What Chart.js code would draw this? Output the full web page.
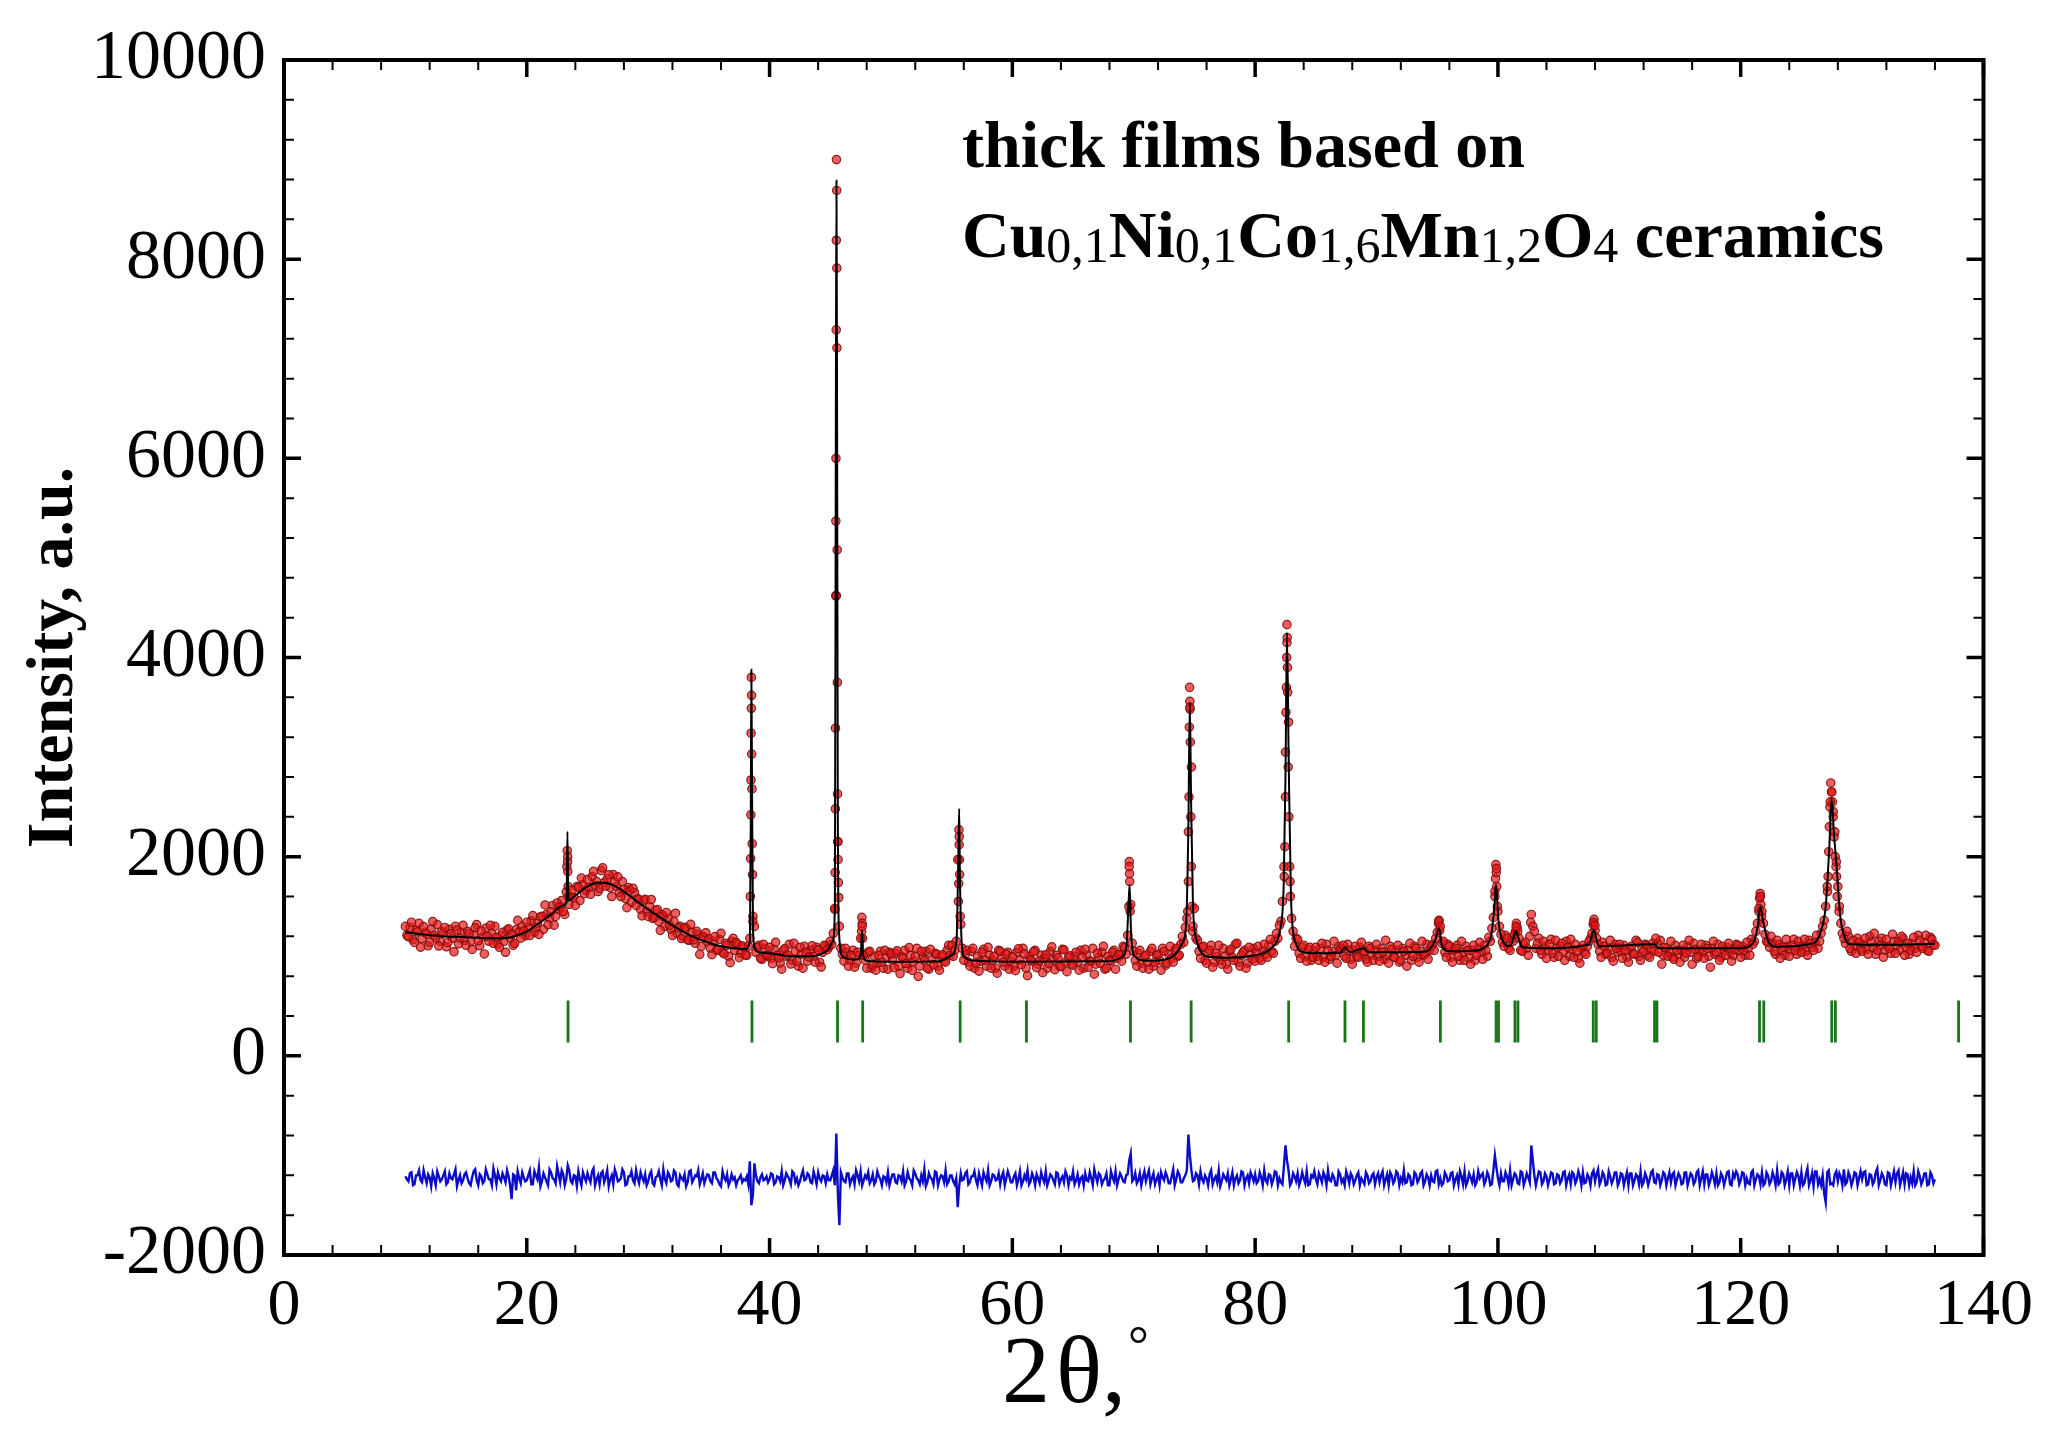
<!DOCTYPE html>
<html>
<head>
<meta charset="utf-8">
<script src="https://cdn.jsdelivr.net/npm/chart.js@4.4.1/dist/chart.umd.min.js"></script>
<style>
  html, body { margin: 0; padding: 0; background: #ffffff; }
  #wrap { width: 2045px; height: 1445px; }
</style>
</head>
<body>
<div id="wrap"><canvas id="c" width="2045" height="1445"></canvas></div>
<script>
// ---------------- DATA ----------------
// observed intensities on a regular 2θ grid (start 10°, step 0.25°)
const obsStart = 10;
const obsStep = 0.25;
const obsCounts = [
  1300,1196,1342,1139,1245,1091,1298,1224,1140,1348,1185,1103,1250,1289,1138,1226,1045,1264,1183,1311,
  1110,1229,1068,1286,1155,1254,1023,1202,1310,1130,1190,1090,1240,1040,1275,1220,1130,1360,1182,1255,
  1340,1208,1408,1288,1220,1402,1515,1318,1450,1312,1535,1498,1450,1645,1520,1665,1510,1692,1785,1628,
  1770,1622,1852,1752,1680,1888,1705,1818,1600,1745,1798,1600,1670,1488,1665,1682,1510,1568,1405,1572,
  1400,1570,1390,1470,1260,1400,1440,1310,1210,1432,1285,1178,1290,1165,1320,1165,1250,1018,1197,1236,
  1175,1016,1197,1068,1230,1025,1110,935,1180,1138,986,1104,1012,1100,3490,1300,1090,980,1120,1010,
  1090,925,1140,985,870,1077,1014,922,1130,950,1090,880,1040,992,1105,940,1065,892,1110,1065,
  1150,1230,4620,1300,1020,1080,900,1010,890,1040,1180,1010,880,1050,910,860,1010,940,1060,870,
  1025,885,1055,826,976,927,1087,858,998,798,1049,959,880,1070,915,1020,860,1015,940,1110,
  1110,1060,1970,1320,960,1060,900,1080,930,850,1040,960,1090,880,1000,830,1050,940,1020,870,
  995,855,1075,915,1025,805,965,1045,885,955,835,1015,925,1095,865,985,895,1065,845,1005,
  910,1040,860,990,1070,890,950,820,1030,930,1100,880,960,1040,870,1020,950,1090,1210,1520,
  1050,900,1060,880,1010,870,1080,940,1020,860,1050,930,1100,940,1080,1010,1200,1290,2250,2900,
  1480,1160,980,1100,930,1060,890,1030,1110,920,1000,870,1070,960,1130,900,1040,880,1090,970,
  950,1100,960,1120,990,1170,1030,1230,1310,1550,3050,3350,1380,1100,1170,980,1110,950,1090,990,
  1090,960,1130,940,1060,1000,1150,930,1070,1110,980,1060,920,1100,990,1140,1050,940,1080,960,
  1120,950,1040,1160,930,1070,990,1110,960,1050,900,1130,1000,1080,940,1150,1020,970,1100,1060,
  1240,1300,1150,990,1100,940,1080,1000,1150,960,1060,920,1110,1010,1140,970,1060,1190,1280,1600,
  1450,1220,1100,1180,1060,1150,1300,1180,1050,1140,1010,1420,1250,1130,1060,1150,980,1120,1030,1160,
  1000,1130,960,1090,1170,990,1050,930,1110,1020,1150,1230,1310,1120,990,1100,1030,1160,950,1080,
  1120,980,1060,940,1100,1020,1140,960,1050,1110,990,1130,1180,1040,920,1090,1000,1150,970,1060,
  940,1110,1030,1160,920,1070,1000,1120,980,1080,890,1150,1040,960,1100,1010,1130,950,1070,1110,
  990,1060,1140,1010,1120,1250,1480,1450,1220,1140,1200,1050,1160,980,1090,1170,1000,1110,1060,1150,
  1040,1170,1010,1130,1060,1210,1150,1300,1500,2050,2650,2250,1700,1330,1180,1250,1080,1160,1030,1140,
  1050,1180,1020,1140,1230,1060,1110,990,1170,1080,1220,1030,1150,1200,1010,1130,1060,1190,1040,1160,
  1080,1210,1050,1170,1110
];

// observed intensities at the intermediate grid points (start 10.125°, step 0.25°)
const obsStartB = 10.125;
const obsCountsB = [
  1210,1290,1165,1262,1330,1178,1240,1105,1275,1210,1318,1150,1232,1095,1270,1180,1302,1125,1240,1160,
  1250,1150,1220,1318,1105,1195,1282,1150,1228,1300,1120,1205,1150,1262,1185,1110,1268,1245,1300,1205,
  1290,1355,1240,1330,1395,1270,1420,1380,1510,1400,1470,1560,1420,2000,1600,1590,1700,1560,1720,1660,
  1690,1800,1710,1650,1860,1740,1780,1690,1820,1700,1640,1750,1580,1690,1540,1640,1580,1470,1560,1450,
  1500,1380,1460,1350,1420,1300,1380,1270,1350,1230,1300,1200,1280,1160,1240,1130,1220,1100,1190,1150,
  1080,1150,1060,1170,1040,1130,1000,1150,1060,1120,1030,1090,1010,1180,1350,1040,1110,970,1080,1000,
  980,1070,1010,930,1060,1000,1120,960,1050,900,1020,1100,950,1060,1000,1090,940,1040,1100,1090,
  1120,1480,2150,1080,950,1040,960,1060,930,1010,1300,960,1040,880,1000,930,1050,880,990,1040,
  960,1030,900,1000,1060,880,1010,950,1080,900,1000,1050,870,970,1030,900,1000,950,1060,1010,
  1000,1150,2200,1080,1020,940,1050,880,1000,950,1070,900,1010,960,880,1060,990,900,1040,950,
  900,1040,960,1080,880,1000,950,1060,920,1010,980,880,1050,960,1010,900,1070,940,990,920,
  1000,940,1060,880,1010,950,1080,920,990,1040,870,1000,950,1060,980,1010,1100,1020,1900,1130,
  960,1030,930,1000,940,1050,900,1010,960,1080,910,1020,980,1060,1000,1120,1140,1380,3500,1300,
  1180,1050,1090,960,1030,1110,940,1000,960,1080,920,1050,990,1120,940,1010,1060,930,1020,1080,
  1040,980,1060,1020,1110,1050,1150,1180,1350,1900,4150,1750,1250,1180,1030,1090,1000,1070,960,1050,
  1000,1080,990,1120,970,1050,1010,1100,1080,1000,1120,970,1060,1000,1090,1020,970,1100,1010,1060,
  1000,1080,970,1010,1100,990,1060,940,1080,1010,1060,960,1100,990,1050,1010,1120,1060,1120,1180,
  1350,1130,1040,1120,990,1060,1110,960,1040,1100,980,1060,960,1080,1040,1110,1000,1150,1390,1880,
  1300,1140,1210,1080,1170,1220,1250,1060,1120,1080,1200,1300,1080,1180,1020,1100,1060,1170,990,1090,
  1100,1040,1150,1000,1070,1120,980,1080,1040,1100,1180,1340,1180,1050,1140,1020,1080,990,1120,1040,
  1050,1110,990,1080,1030,1160,1000,1080,1120,1010,1070,1050,1130,1160,1010,1080,1040,990,1110,1020,
  1060,990,1100,1040,1130,980,1060,1040,1110,1000,1080,1020,1120,990,1060,1090,1040,1010,1120,1050,
  1100,1010,1080,1170,1150,1330,1600,1330,1150,1090,1130,1020,1120,1060,1010,1100,1060,1170,1020,1100,
  1100,1050,1160,1090,1140,1080,1230,1360,1700,2550,2450,1950,1500,1230,1130,1200,1050,1110,1180,1070,
  1120,1070,1200,1090,1020,1150,1180,1060,1100,1030,1150,1110,1060,1180,1090,1020,1130,1080,1210,1100,
  1140,1060,1190,1120
];

// extra observed points measured on the flanks of the sharp reflections [2θ, counts]
const peakObs = [
  [23.3,1900],[23.33,2060],[23.36,1950],[23.38,1850],[23.4,1700],[23.42,1600],
  [38.42,1600],[38.44,1980],[38.46,2420],[38.47,2770],[38.48,3240],[38.5,3800],[38.52,3620],[38.53,3030],[38.55,2680],[38.57,2130],[38.6,1820],[38.63,1400],
  [45.38,1470],[45.4,1840],[45.42,2480],[45.43,3290],[45.45,4620],[45.46,5370],[45.47,6000],[45.49,7290],[45.5,8190],[45.51,9000],[45.53,8690],[45.54,7910],[45.55,7110],[45.57,5080],[45.58,3750],[45.6,2630],[45.62,2150],[45.64,1970],[45.67,1740],[45.7,1590],
  [47.58,1250],[47.6,1390],[47.63,1330],[47.66,1180],
  [55.55,1550],[55.58,1730],[55.6,2270],[55.62,2120],[55.64,1970],[55.66,1820],[55.7,1400],
  [69.6,1500],[69.63,1950],[69.65,1830],[69.67,1750],[69.7,1450],
  [74.45,1450],[74.5,1750],[74.55,2600],[74.58,3300],[74.6,3700],[74.62,3560],[74.64,3480],[74.66,3150],[74.7,2400],[74.74,1900],[74.8,1500],[74.86,1250],
  [82.4,1800],[82.45,2100],[82.5,2600],[82.54,3450],[82.57,3700],[82.6,4000],[82.62,4330],[82.64,4200],[82.66,3900],[82.68,3650],[82.72,2900],[82.78,2400],[82.84,1900],[82.9,1600],
  [95.1,1330],[95.15,1360],[95.2,1260],
  [99.75,1650],[99.8,1780],[99.83,1920],[99.86,1840],[99.9,1700],[99.95,1500],
  [101.45,1250],[101.52,1330],[101.58,1290],
  [102.7,1340],
  [107.85,1320],[107.92,1370],[108.0,1260],
  [121.5,1450],[121.56,1580],[121.6,1630],[121.66,1520],[121.72,1400],
  [127.15,1650],[127.2,1800],[127.3,2300],[127.35,2500],[127.42,2740],[127.48,2650],[127.55,2550],[127.62,2400],[127.7,2200],[127.78,2000],[127.85,1900],[127.9,1800],[127.95,1600],[128.1,1450]
];

// calculated (refined) profile [2θ, counts]
const calcProfile = [
  [10,1240],[11,1225],[12,1210],[13,1200],[14,1195],[15,1190],[16,1185],[17,1180],[18,1180],[19,1200],
  [20,1250],[21,1330],[22,1420],[23,1510],[23.28,1540],[23.35,2250],[23.42,1560],[24,1610],[25,1700],
  [26,1740],[27,1720],[28,1650],[29,1560],[30,1470],[31,1390],[32,1310],[33,1240],[34,1180],[35,1135],
  [36,1100],[37,1080],[38,1072],[38.38,1150],[38.45,2300],[38.5,3880],[38.56,2600],[38.64,1250],[38.8,1080],
  [39,1045],[40,1030],[41,1010],[42,1000],[43,1000],[44,1010],[44.8,1060],[45.2,1150],[45.38,1500],
  [45.46,6530],[45.51,8790],[45.56,6530],[45.62,2500],[45.72,1250],[46,1000],[47,965],[47.5,1000],
  [47.62,1260],[47.72,1000],[48,955],[50,945],[54,950],[55,1010],[55.4,1150],[55.55,2000],[55.62,2480],
  [55.68,1800],[55.8,1200],[56,1000],[57,955],[60,945],[68,950],[69,990],[69.4,1100],[69.58,1550],
  [69.66,1720],[69.76,1300],[70,1010],[71,955],[72,958],[73,985],[73.5,1030],[74,1130],[74.3,1300],
  [74.5,2300],[74.62,3550],[74.72,2600],[74.88,1500],[75.2,1150],[75.5,1050],[76,1000],[78,985],[80,1010],
  [81,1050],[81.5,1100],[82,1240],[82.35,1700],[82.5,2800],[82.62,4250],[82.76,3000],[82.95,1600],
  [83.3,1150],[84,1040],[85,1030],[87,1035],[87.4,1090],[87.8,1040],[88.95,1080],[89.3,1040],[94,1045],
  [94.8,1150],[95.15,1280],[95.4,1100],[96,1050],[98,1055],[99,1100],[99.5,1250],[99.74,1550],[99.84,1720],
  [100.05,1350],[100.4,1150],[101,1100],[101.5,1250],[101.65,1200],[102,1090],[104,1080],[107.5,1120],
  [107.9,1260],[108.3,1100],[112.9,1120],[113.3,1080],[120,1080],[121,1130],[121.4,1300],[121.6,1500],
  [121.85,1350],[122.3,1140],[123,1095],[126,1130],[126.6,1250],[127,1500],[127.3,2100],[127.48,2580],
  [127.7,2200],[127.9,1900],[128.2,1400],[128.6,1180],[129,1120],[132,1115],[136,1125]
];

// difference curve (observed - calculated, shifted), same grid as obsCounts
const diffCounts = [
  -1210,-1260,-1170,-1290,-1200,-1250,-1150,-1280,-1220,-1180,-1300,-1210,-1240,-1160,-1270,-1230,-1190,-1310,-1200,-1250,
  -1170,-1280,-1220,-1140,-1300,-1210,-1260,-1190,-1240,-1130,-1290,-1230,-1180,-1270,-1210,-1440,-1200,-1160,-1280,-1220,
  -1250,-1150,-1290,-1200,-1120,-1260,-1220,-1300,-1170,-1240,-1110,-1270,-1190,-1240,-1150,-1280,-1210,-1160,-1300,-1220,
  -1180,-1270,-1130,-1240,-1290,-1160,-1220,-1310,-1200,-1140,-1260,-1230,-1170,-1290,-1210,-1250,-1150,-1280,-1220,-1190,
  -1260,-1160,-1300,-1210,-1240,-1140,-1280,-1200,-1250,-1170,-1310,-1230,-1190,-1270,-1150,-1240,-1210,-1290,-1180,-1230,
  -1200,-1280,-1170,-1250,-1310,-1220,-1190,-1260,-1240,-1300,-1230,-1270,-1250,-1290,-1500,-1080,-1260,-1220,-1250,-1210,
  -1240,-1190,-1270,-1220,-1160,-1250,-1210,-1290,-1180,-1230,-1260,-1150,-1240,-1200,-1280,-1220,-1170,-1260,-1210,-1190,
  -1250,-1150,-780,-1700,-1220,-1270,-1180,-1240,-1290,-1200,-1160,-1250,-1230,-1280,-1190,-1260,-1210,-1300,-1220,-1170,
  -1240,-1190,-1280,-1210,-1160,-1260,-1230,-1300,-1180,-1250,-1200,-1140,-1270,-1220,-1290,-1170,-1240,-1210,-1150,-1260,
  -1200,-1290,-1520,-1180,-1240,-1160,-1270,-1210,-1250,-1180,-1300,-1220,-1150,-1260,-1200,-1240,-1290,-1170,-1230,-1210,
  -1270,-1180,-1240,-1300,-1200,-1150,-1260,-1220,-1190,-1280,-1230,-1160,-1250,-1210,-1290,-1180,-1240,-1270,-1200,-1220,
  -1160,-1250,-1290,-1210,-1180,-1260,-1230,-1140,-1270,-1200,-1250,-1180,-1300,-1220,-1160,-1240,-1210,-1270,-1190,-980,
  -1240,-1280,-1180,-1220,-1260,-1150,-1230,-1290,-1200,-1170,-1250,-1210,-1280,-1140,-1240,-1190,-1270,-1200,-790,-1150,
  -1250,-1200,-1160,-1270,-1230,-1190,-1290,-1210,-1150,-1260,-1220,-1180,-1240,-1300,-1200,-1250,-1170,-1230,-1280,-1210,
  -1190,-1260,-1220,-1150,-1280,-1200,-1240,-1170,-1230,-1290,-900,-1150,-1270,-1210,-1180,-1250,-1230,-1160,-1290,-1220,
  -1240,-1180,-1270,-1210,-1150,-1260,-1220,-1300,-1190,-1240,-1160,-1280,-1210,-1250,-1170,-1230,-1290,-1200,-1260,-1180,
  -1220,-1270,-1160,-1240,-1300,-1200,-1250,-1180,-1230,-1150,-1270,-1210,-1290,-1190,-1240,-1160,-1260,-1220,-1200,-1270,
  -1150,-1230,-1280,-1200,-1250,-1170,-1240,-1290,-1210,-1160,-1260,-1220,-1190,-1270,-1230,-1180,-1250,-1210,-1290,-1000,
  -1230,-1180,-1260,-1210,-1150,-1240,-1200,-1290,-1170,-1250,-1220,-900,-1200,-1230,-1170,-1260,-1210,-1240,-1180,-1280,
  -1200,-1250,-1160,-1230,-1290,-1190,-1240,-1210,-1170,-1270,-1220,-1180,-1260,-1140,-1250,-1200,-1290,-1210,-1240,-1170,
  -1260,-1190,-1230,-1300,-1180,-1250,-1210,-1160,-1270,-1220,-1240,-1150,-1280,-1200,-1250,-1190,-1230,-1270,-1170,-1240,
  -1210,-1280,-1170,-1240,-1200,-1260,-1150,-1230,-1290,-1190,-1250,-1220,-1180,-1270,-1210,-1240,-1160,-1300,-1220,-1190,
  -1250,-1180,-1230,-1290,-1150,-1240,-1210,-1170,-1280,-1200,-1260,-1220,-1150,-1270,-1190,-1240,-1300,-1180,-1230,-1210,
  -1170,-1280,-1130,-1250,-1310,-1160,-1240,-1200,-1470,-1150,-1280,-1190,-1260,-1220,-1140,-1270,-1210,-1250,-1180,-1230,
  -1240,-1160,-1290,-1200,-1260,-1130,-1250,-1210,-1300,-1180,-1230,-1270,-1150,-1240,-1290,-1190,-1220,-1160,-1270,-1210,
  -1250,-1180,-1290,-1200,-1240
];

// difference curve at the intermediate grid points (same grid as obsCountsB)
const diffCountsB = [
  -1240,-1180,-1300,-1200,-1150,-1270,-1220,-1190,-1310,-1230,-1160,-1260,-1200,-1290,-1180,-1240,-1140,-1250,-1280,-1190,
  -1230,-1300,-1160,-1250,-1190,-1280,-1140,-1240,-1300,-1200,-1170,-1260,-1220,-1150,-1300,-1190,-1350,-1230,-1170,-1260,
  -1200,-1290,-1160,-1240,-1310,-1180,-1260,-1140,-1230,-1280,-1190,-1150,-1300,-1100,-1260,-1200,-1310,-1240,-1170,-1260,
  -1230,-1160,-1300,-1200,-1180,-1270,-1150,-1240,-1290,-1190,-1250,-1140,-1300,-1210,-1160,-1280,-1230,-1170,-1260,-1300,
  -1190,-1280,-1220,-1160,-1300,-1240,-1170,-1260,-1150,-1290,-1200,-1250,-1310,-1160,-1270,-1200,-1150,-1240,-1280,-1190,
  -1260,-1170,-1230,-1290,-1160,-1250,-1300,-1190,-1220,-1250,-1200,-1240,-1210,-1060,-1400,-1200,-1280,-1190,-1240,-1270,
  -1180,-1290,-1210,-1260,-1300,-1180,-1240,-1160,-1270,-1300,-1200,-1250,-1180,-1270,-1160,-1290,-1230,-1200,-1280,-1250,
  -1200,-1300,-1380,-1170,-1260,-1180,-1290,-1210,-1150,-1260,-1300,-1200,-1170,-1250,-1290,-1160,-1240,-1210,-1270,-1300,
  -1190,-1270,-1200,-1260,-1300,-1170,-1250,-1150,-1230,-1290,-1260,-1310,-1180,-1240,-1160,-1300,-1200,-1270,-1290,-1200,
  -1260,-1230,-1300,-1250,-1180,-1290,-1210,-1160,-1300,-1240,-1170,-1260,-1300,-1190,-1250,-1180,-1210,-1300,-1160,-1270,
  -1210,-1300,-1160,-1260,-1240,-1290,-1180,-1300,-1230,-1170,-1270,-1300,-1190,-1250,-1170,-1290,-1210,-1160,-1300,-1240,
  -1290,-1190,-1230,-1300,-1250,-1170,-1300,-1210,-1180,-1290,-1230,-1300,-1160,-1260,-1300,-1180,-1260,-1200,-1050,-1260,
  -1180,-1250,-1300,-1160,-1200,-1290,-1180,-1240,-1300,-1220,-1170,-1280,-1210,-1300,-1160,-1270,-1230,-1150,-1000,-1260,
  -1180,-1290,-1240,-1200,-1300,-1150,-1240,-1270,-1310,-1190,-1250,-1300,-1170,-1230,-1280,-1160,-1300,-1200,-1170,-1260,
  -1280,-1170,-1300,-1250,-1190,-1290,-1160,-1300,-1270,-1100,-1050,-1300,-1180,-1260,-1300,-1170,-1280,-1300,-1200,-1160,
  -1290,-1220,-1170,-1300,-1250,-1190,-1300,-1160,-1270,-1300,-1210,-1180,-1290,-1200,-1300,-1260,-1170,-1280,-1200,-1290,
  -1180,-1200,-1300,-1190,-1170,-1280,-1160,-1300,-1270,-1280,-1190,-1300,-1170,-1270,-1180,-1300,-1190,-1300,-1260,-1160,
  -1290,-1300,-1170,-1260,-1180,-1300,-1200,-1160,-1290,-1300,-1180,-1270,-1300,-1160,-1200,-1290,-1170,-1300,-1150,-1120,
  -1300,-1260,-1170,-1290,-1300,-1180,-1280,-1160,-1300,-1180,-1270,-1050,-1300,-1160,-1290,-1180,-1300,-1170,-1290,-1190,
  -1280,-1170,-1300,-1190,-1170,-1280,-1160,-1300,-1280,-1190,-1300,-1150,-1190,-1290,-1170,-1300,-1160,-1280,-1170,-1300,
  -1180,-1300,-1170,-1180,-1300,-1190,-1290,-1300,-1180,-1300,-1170,-1270,-1190,-1300,-1170,-1300,-1170,-1190,-1300,-1180,
  -1290,-1170,-1300,-1180,-1290,-1170,-1300,-1160,-1190,-1300,-1170,-1290,-1300,-1180,-1300,-1170,-1290,-1180,-1160,-1290,
  -1170,-1300,-1280,-1170,-1300,-1190,-1290,-1300,-1170,-1290,-1170,-1300,-1290,-1170,-1300,-1160,-1180,-1300,-1170,-1300,
  -1300,-1190,-1300,-1180,-1160,-1290,-1300,-1380,-1170,-1290,-1300,-1160,-1180,-1300,-1290,-1170,-1300,-1170,-1300,-1160,
  -1170,-1300,-1190,-1290,-1170,-1300,-1180,-1290,-1170,-1300,-1160,-1180,-1300,-1170,-1180,-1300,-1280,-1300,-1160,-1290,
  -1180,-1300,-1170,-1280
];

// Bragg reflection positions (2θ, degrees)
const braggPositions = [
  23.4, 38.55, 45.6, 47.67, 55.7, 61.16, 69.73, 74.73, 82.76, 87.4, 88.92, 95.26,
  99.85, 100.05, 101.4, 101.65, 107.85, 108.1, 112.9, 113.1, 121.55, 121.9, 127.5, 127.8, 137.95
];

// axis ticks
const xTickLabels = [0, 20, 40, 60, 80, 100, 120, 140];
const yTickLabels = [-2000, 0, 2000, 4000, 6000, 8000, 10000];

// ---------------- STYLE ----------------
const SERIF = '"Liberation Serif", "Times New Roman", serif';
const BRAGG_LEVEL = 345;      // vertical centre of the reflection markers (data units)
const X_MINOR = 4, Y_MINOR = 400;

const obsData = obsCounts.map((c, i) => ({ x: obsStart + i * obsStep, y: c }));
const obsDataB = obsCountsB.map((c, i) => ({ x: obsStartB + i * obsStep, y: c }));
const peakData = peakObs.map(p => ({ x: p[0], y: p[1] }));
const calcData = calcProfile.map(p => ({ x: p[0], y: p[1] }));
const diffData = diffCounts.map((c, i) => ({ x: obsStart + i * obsStep, y: c }))
  .concat(diffCountsB.map((c, i) => ({ x: obsStartB + i * obsStep, y: c })))
  .sort((p, q) => p.x - q.x);
const braggData = braggPositions.map(a => ({ x: a, y: BRAGG_LEVEL }));

const circleStyle = {
  showLine: false,
  pointStyle: 'circle',
  pointRadius: 4.2,
  pointBorderWidth: 1.2,
  pointBorderColor: 'rgba(125,15,15,0.9)',
  pointBackgroundColor: 'rgba(232,18,18,0.68)'
};

const framePlugin = {
  id: 'frameTicks',
  afterDraw(chart) {
    const { ctx, chartArea: a, scales: { x, y } } = chart;
    ctx.save();
    ctx.strokeStyle = '#000';
    const xMin = xTickLabels[0], xMax = xTickLabels[xTickLabels.length - 1];
    const xMajor = xTickLabels[1] - xTickLabels[0];
    for (let k = 0; xMin + k * X_MINOR <= xMax + 1e-9; k++) {
      const v = xMin + k * X_MINOR;
      const major = Math.abs(v / xMajor - Math.round(v / xMajor)) < 1e-6;
      const len = major ? 17 : 10;
      const px = x.getPixelForValue(v);
      ctx.lineWidth = major ? 3.5 : 2;
      ctx.beginPath();
      ctx.moveTo(px, a.bottom); ctx.lineTo(px, a.bottom - len);
      ctx.moveTo(px, a.top); ctx.lineTo(px, a.top + len);
      ctx.stroke();
    }
    const yMin = yTickLabels[0], yMax = yTickLabels[yTickLabels.length - 1];
    const yMajor = yTickLabels[1] - yTickLabels[0];
    for (let k = 0; yMin + k * Y_MINOR <= yMax + 1e-9; k++) {
      const v = yMin + k * Y_MINOR;
      const major = Math.abs(v / yMajor - Math.round(v / yMajor)) < 1e-6;
      const len = major ? 17 : 10;
      const py = y.getPixelForValue(v);
      ctx.lineWidth = major ? 3.5 : 2;
      ctx.beginPath();
      ctx.moveTo(a.left, py); ctx.lineTo(a.left + len, py);
      ctx.moveTo(a.right, py); ctx.lineTo(a.right - len, py);
      ctx.stroke();
    }
    ctx.lineWidth = 4;
    ctx.strokeRect(a.left, a.top, a.right - a.left, a.bottom - a.top);

    // x-axis title: 2θ,°
    ctx.fillStyle = '#000';
    ctx.textBaseline = 'alphabetic';
    ctx.textAlign = 'left';
    ctx.font = '96px ' + SERIF;
    const tx = 1002, ty = 1402;
    ctx.fillText('2', tx, ty);
    const w2 = ctx.measureText('2').width;
    const thetaX = tx + w2 + 6;
    ctx.fillText('\u03B8,', thetaX, ty);
    const wt = ctx.measureText('\u03B8,').width;
    ctx.font = '52px ' + SERIF;
    ctx.fillText('\u00B0', thetaX + wt + 2, ty - 40);

    // annotation
    ctx.font = 'bold 66px ' + SERIF;
    ctx.fillText('thick films based on', 962, 167);
    const parts = [
      ['Cu', 0], ['0,1', 1], ['Ni', 0], ['0,1', 1], ['Co', 0], ['1,6', 1],
      ['Mn', 0], ['1,2', 1], ['O', 0], ['4', 1], [' ceramics', 0]
    ];
    let cx = 962;
    const base = 257;
    for (const [t, sub] of parts) {
      ctx.font = sub ? '50px ' + SERIF : 'bold 66px ' + SERIF;
      ctx.fillText(t, cx, sub ? base + 5 : base);
      cx += ctx.measureText(t).width;
    }
    ctx.restore();
  }
};

new Chart(document.getElementById('c'), {
  type: 'scatter',
  data: {
    datasets: [
      {
        label: 'calculated',
        data: calcData,
        showLine: true,
        borderColor: '#000000',
        borderWidth: 2,
        pointRadius: 0,
        cubicInterpolationMode: 'monotone',
        order: 0
      },
      Object.assign({ label: 'observed', data: obsData, order: 1 }, circleStyle),
      Object.assign({ label: 'observed (mid grid)', data: obsDataB, order: 1 }, circleStyle),
      Object.assign({ label: 'observed (peaks)', data: peakData, order: 1 }, circleStyle),
      {
        label: 'difference',
        data: diffData,
        showLine: true,
        borderColor: '#0b0bc8',
        borderWidth: 2.4,
        pointRadius: 0,
        order: 2
      },
      {
        label: 'Bragg positions',
        data: braggData,
        showLine: false,
        pointStyle: 'line',
        rotation: 90,
        pointRadius: 21,
        pointBorderWidth: 2.8,
        pointBorderColor: '#1a751a',
        pointBackgroundColor: '#1a751a',
        order: 3
      }
    ]
  },
  options: {
    responsive: false,
    animation: false,
    events: [],
    layout: { padding: { top: 55, right: 54, left: 0, bottom: 0 } },
    plugins: { legend: { display: false }, tooltip: { enabled: false }, title: { display: false } },
    scales: {
      x: {
        type: 'linear',
        min: xTickLabels[0],
        max: xTickLabels[xTickLabels.length - 1],
        afterFit(s) { s.height = 190; },
        afterBuildTicks(s) { s.ticks = xTickLabels.map(v => ({ value: v })); },
        grid: { display: false, drawTicks: false },
        border: { display: false },
        ticks: { color: '#000', padding: 12, font: { family: SERIF, size: 66 }, maxRotation: 0,
                 callback: v => String(v) }
      },
      y: {
        type: 'linear',
        min: yTickLabels[0],
        max: yTickLabels[yTickLabels.length - 1],
        afterFit(s) { s.width = 284; },
        afterBuildTicks(s) { s.ticks = yTickLabels.map(v => ({ value: v })); },
        grid: { display: false, drawTicks: false },
        border: { display: false },
        ticks: { color: '#000', padding: 18, font: { family: SERIF, size: 70 },
                 callback: v => String(v) },
        title: {
          display: true,
          text: 'Intensity, a.u.',
          color: '#000',
          font: { family: SERIF, size: 66, weight: 'bold' },
          padding: { top: 15, bottom: 0 }
        }
      }
    }
  },
  plugins: [framePlugin]
});
</script>
</body>
</html>
